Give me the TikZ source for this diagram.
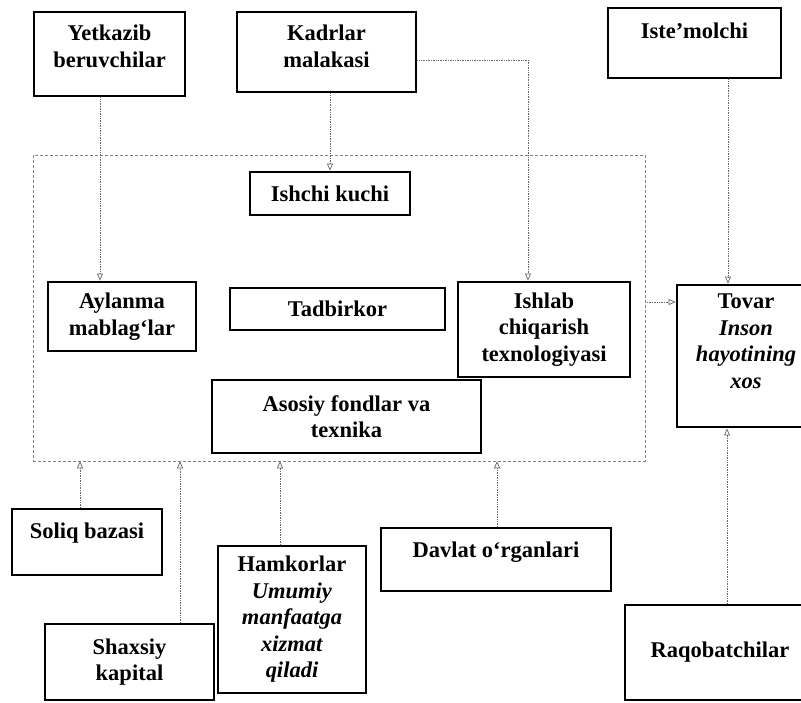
\documentclass[tikz,border=0pt]{standalone}
\usepackage{fontspec}
\setmainfont{Liberation Serif}
\usetikzlibrary{arrows.meta}

\begin{document}
\begin{tikzpicture}[x=1pt, y=-1pt, >={Triangle[open,length=7pt,width=6pt]},
    every node/.style={font=\fontsize{22.5}{26.5}\selectfont\bfseries, align=center},
    box/.style={draw, line width=2.8pt, inner sep=2pt},
    conn/.style={->, draw=black!60, densely dotted, line width=0.7pt},
    zone/.style={draw=black!50, densely dashed, line width=0.5pt}
  ]
    % page frame
    \useasboundingbox (0,0) rectangle (801,702);
    \clip (0,0) rectangle (801,702);

    % enterprise zone (dashed frame)
    \node[zone, minimum width=612pt, minimum height=306pt] (zone) at (339,308) {};

    % outer actors, top row
    \node[box, minimum width=151pt, minimum height=84pt, text depth=16pt] (yetkazib) at (109.5,54) {Yetkazib\\ beruvchilar};
    \node[box, minimum width=179pt, minimum height=80pt, text depth=12pt] (kadrlar) at (326.5,52) {Kadrlar\\ malakasi};
    \node[box, minimum width=173pt, minimum height=70pt, text depth=24pt] (iste) at (694.5,43) {Iste’molchi};

    % inside the zone
    \node[box, minimum width=160pt, minimum height=43pt] (ishchi) at (330,193.5) {Ishchi kuchi};
    \node[box, minimum width=148pt, minimum height=69pt] (aylanma) at (122,316.5) {Aylanma\\ mablag‘lar};
    \node[box, minimum width=215pt, minimum height=42pt] (tadbirkor) at (337.5,309) {Tadbirkor};
    \node[box, minimum width=172pt, minimum height=95pt] (ishlab) at (544,329.5) {Ishlab\\ chiqarish\\ texnologiyasi};
    \node[box, minimum width=269pt, minimum height=73pt] (asosiy) at (346.5,416.5) {Asosiy fondlar va\\ texnika};

    % product
    \node[box, minimum width=138pt, minimum height=142pt, text depth=30pt] (tovar) at (746,356)
      {Tovar\\ \textit{Inson}\\ \textit{hayotining}\\ \textit{xos}};

    % outer actors, bottom row
    \node[box, minimum width=150pt, minimum height=66pt, text depth=22pt] (soliq) at (87,542) {Soliq bazasi};
    \node[box, minimum width=148pt, minimum height=147pt] (hamkorlar) at (292,619.5)
      {Hamkorlar\\ \textit{Umumiy}\\ \textit{manfaatga}\\ \textit{xizmat}\\ \textit{qiladi}};
    \node[box, minimum width=169pt, minimum height=76pt] (shaxsiy) at (129.5,662) {Shaxsiy\\ kapital};
    \node[box, minimum width=230pt, minimum height=63pt, text depth=20pt] (davlat) at (496,559.5) {Davlat o‘rganlari};
    \node[box, minimum width=190pt, minimum height=95pt] (raqobat) at (720,652.5) {Raqobatchilar};

    % flows into the enterprise
    \draw[conn] (yetkazib.south -| 100,0) -- (aylanma.north -| 100,0);
    \draw[conn] (kadrlar.south -| ishchi.north) -- (ishchi.north);
    \draw[conn] (kadrlar.east |- 0,60) -| (ishlab.north -| 528,0);

    % flows to the product
    \draw[conn] (iste.south -| 728,0) -- (tovar.north -| 728,0);
    \draw[conn] (zone.east |- 0,302) -- (tovar.west |- 0,302);
    \draw[conn] (raqobat.north -| 727,0) -- (tovar.south -| 727,0);

    % flows from below
    \draw[conn] (soliq.north -| 80,0) -- (zone.south -| 80,0);
    \draw[conn] (shaxsiy.north -| 180,0) -- (zone.south -| 180,0);
    \draw[conn] (hamkorlar.north -| 280,0) -- (zone.south -| 280,0);
    \draw[conn] (davlat.north -| 497,0) -- (zone.south -| 497,0);
  \end{tikzpicture}
\end{document}
